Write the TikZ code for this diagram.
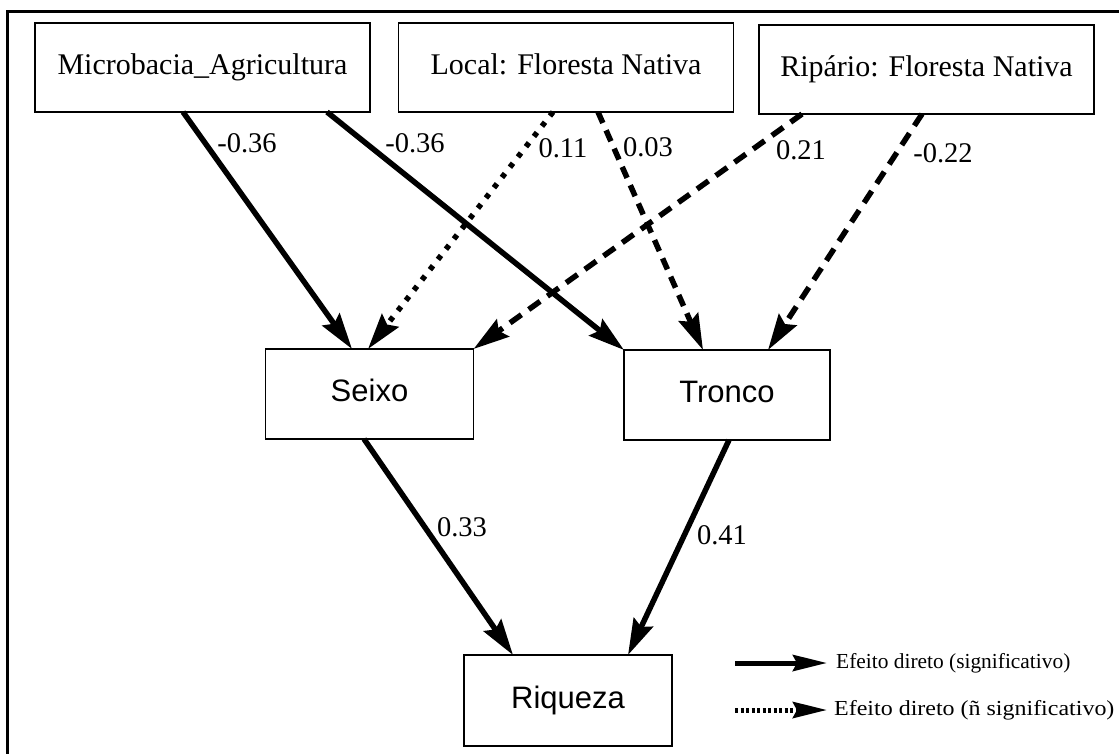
\documentclass[tikz,border=0pt]{standalone}
\usepackage{graphicx}
\usepackage{fontspec}
\setmainfont{Liberation Serif}
\newfontfamily\boxsans{Liberation Sans}
\usetikzlibrary{arrows.meta}

\tikzset{
  topbox/.style={draw, line width=1.3pt, inner sep=0pt, outer sep=0pt,
    minimum width=335pt, minimum height=89pt,
    font=\fontsize{30}{36}\selectfont, text height=20pt, text depth=6pt},
  midbox/.style={draw, line width=1.3pt, inner sep=0pt, outer sep=0pt,
    minimum width=208pt, minimum height=90pt,
    font=\boxsans\fontsize{31}{37}\selectfont, text height=22pt, text depth=7pt},
  coef/.style={inner sep=0pt, font=\fontsize{28.5}{34}\selectfont},
  legtext/.style={inner sep=0pt, anchor=west, font=\fontsize{21.4}{26}\selectfont},
  effect/.style={line width=5.5pt, -{Stealth[length=36pt,width=21pt,inset=5pt]}},
  sig/.style={effect},
  dotline/.style={effect, dash pattern=on 5pt off 8pt},
  dashline/.style={effect, dash pattern=on 12pt off 8pt},
  longdash/.style={effect, dash pattern=on 14pt off 9pt},
  legarrow/.style={line width=5pt, -{Stealth[length=34pt,width=16pt,inset=4pt]}},
}

\begin{document}
\begin{tikzpicture}[x=1pt, y=-1pt]
  \useasboundingbox (0,0) rectangle (1119,753);
  \fill[white] (0,0) rectangle (1119,753);
  % outer frame, open towards the lower right
  \draw[line width=3pt] (7,11) rectangle (1135,770);

  % predictors
  \node[topbox] (micro)   at (202.5,67.5) {Microbacia\_Agricultura};
  \node[topbox] (local)   at (566,67.5)   {Local: Floresta Nativa};
  \node[topbox] (ripario) at (926.5,69.5) {Ripário: Floresta Nativa};

  % habitat variables and response
  \node[midbox] (seixo)   at (369.5,394) {Seixo};
  \node[midbox, minimum width=206pt] (tronco) at (727,395) {Tronco};
  \node[midbox, minimum height=91pt] (riqueza) at (568,700.5) {Riqueza};

  % direct effects of the predictors
  \draw[sig] ([xshift=-19.5pt]micro.south) -- ([xshift=-17.5pt]seixo.north);
  \draw[sig] ([xshift=124.5pt]micro.south) -- (tronco.north west);
  \draw[dotline] ([xshift=-13pt]local.south) -- ([xshift=-1.5pt]seixo.north);
  \draw[dashline] ([xshift=32pt]local.south) -- ([xshift=-24pt]tronco.north);
  \draw[longdash] ([xshift=-124.5pt]ripario.south) -- (seixo.north east);
  \draw[longdash] ([xshift=-4.5pt]ripario.south) -- ([xshift=41pt]tronco.north);

  % effects on species richness
  \draw[sig] ([xshift=-5.5pt]seixo.south) -- ([xshift=-55pt]riqueza.north);
  \draw[sig] ([xshift=2pt]tronco.south) -- ([xshift=60pt]riqueza.north);

  % path coefficients
  \node[coef] (c1) at (247,143) {-0.36};
  \node[coef] (c2) at (415,143) {-0.36};
  \node[coef] (c3) at (563,148) {0.11};
  \node[coef] (c4) at (648,147) {0.03};
  \node[coef] (c5) at (801,150) {0.21};
  \node[coef] (c6) at (943,153) {-0.22};
  \node[coef] (c7) at (462,527) {0.33};
  \node[coef] (c8) at (722,535) {0.41};

  % legend
  \coordinate (ls1) at (735,663);
  \coordinate (le1) at (827,663);
  \coordinate (ls2) at (735,710);
  \coordinate (le2) at (827,710);
  \draw[legarrow] (ls1) -- (le1);
  \draw[legarrow, dash pattern=on 3pt off 2.5pt] (ls2) -- (le2);
  \node[legtext] (lt1) at (836,663) {Efeito direto (significativo)};
  \node[legtext] (lt2) at (834,710) {\scalebox{1.12}[1]{Efeito direto (ñ significativo)}};
\end{tikzpicture}
\end{document}
